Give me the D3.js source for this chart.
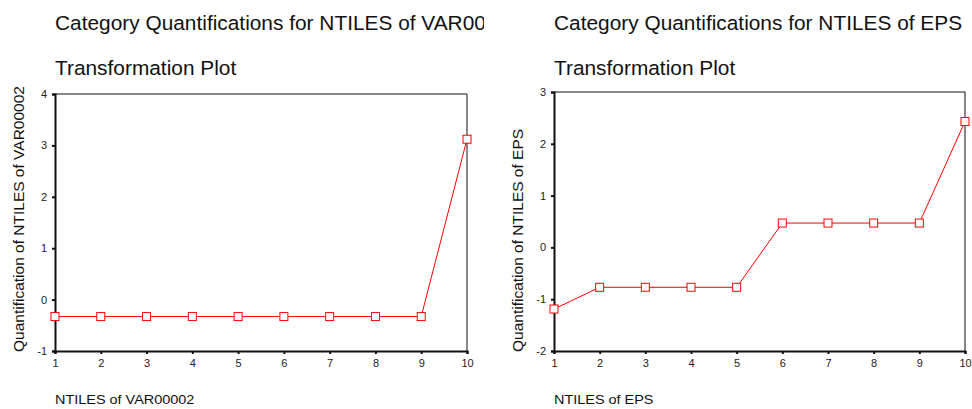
<!DOCTYPE html>
<html lang="en">
<head>
  <meta charset="UTF-8" />
  <title>Transformation Plots</title>
  <script src="https://d3js.org/d3.v7.min.js"></script>
  <style>
    body { margin: 0; background: #fff; font-family: Arial, 'Liberation Sans', sans-serif; }
    svg { display: block; }
    .tick text { font-size: 11px; fill: #222; }
  </style>
</head>
<body>
  <svg id="chart" width="972" height="409"></svg>
  <script>
    // data
    const categories = [1, 2, 3, 4, 5, 6, 7, 8, 9, 10];
    const var00002Values = [-0.33, -0.33, -0.33, -0.33, -0.33, -0.33, -0.33, -0.33, -0.33, 3.12];
    const epsValues = [-1.19, -0.77, -0.77, -0.77, -0.77, 0.47, 0.47, 0.47, 0.47, 2.43];
    const var00002Ticks = [-1, 0, 1, 2, 3, 4];
    const epsTicks = [-2, -1, 0, 1, 2, 3];

    const svg = d3.select("#chart");
    const stretch = 1.07; // the original text is set a little wide

    function wideText(parent, x, y, size, str, rotate) {
      return parent.append("text")
        .attr("transform", `translate(${x},${y})${rotate ? " rotate(-90)" : ""} scale(${stretch},1)`)
        .style("font-size", size + "px").attr("fill", "#111").text(str);
    }

    function drawPanel(opts) {
      const g = svg.append("g");
      const x = d3.scaleLinear().domain([1, 10]).range([opts.left, opts.right]);
      const y = d3.scaleLinear().domain(d3.extent(opts.ticks)).range([opts.bottom, opts.top]);

      // clip for titles that run past the panel
      const clipId = "clip-" + opts.id;
      svg.append("clipPath").attr("id", clipId)
        .append("rect").attr("x", opts.left - 5).attr("y", 0)
        .attr("width", opts.clipRight - opts.left + 5).attr("height", 409);

      const titles = g.append("g").attr("clip-path", `url(#${clipId})`);
      wideText(titles, opts.left, 30, 19.5, opts.title);
      wideText(titles, opts.left, 75, 19.5, "Transformation Plot");

      // frame top and right
      g.append("path")
        .attr("d", `M${opts.left},${opts.top}H${opts.right}V${opts.bottom}`)
        .attr("fill", "none").attr("stroke", "#111").attr("stroke-width", 1);

      const fmt = d => String(d);
      const yAxis = g.append("g").attr("transform", `translate(${opts.left},0)`)
        .call(d3.axisLeft(y).tickValues(opts.ticks).tickSize(3).tickPadding(5).tickFormat(fmt));
      const xAxis = g.append("g").attr("transform", `translate(0,${opts.bottom})`)
        .call(d3.axisBottom(x).tickValues(categories).tickSize(3).tickPadding(5).tickFormat(fmt));
      [yAxis, xAxis].forEach(a => {
        a.select(".domain").attr("stroke", "#111").attr("stroke-width", 2);
        a.selectAll(".tick line").attr("stroke", "#111").attr("stroke-width", 2);
      });

      // axis titles
      wideText(g, opts.left - 31, opts.bottom + 1, 14.5, opts.yLabel, true);
      wideText(g, opts.left, 404, 13.5, opts.xLabel);

      const pts = categories.map((c, i) => [c, opts.values[i]]);
      g.append("path").datum(pts)
        .attr("d", d3.line().x(d => x(d[0])).y(d => y(d[1])))
        .attr("fill", "none").attr("stroke", "#ff0000").attr("stroke-width", 1);
      g.selectAll("rect.mark").data(pts).enter().append("rect")
        .attr("class", "mark")
        .attr("x", d => x(d[0]) - 4).attr("y", d => y(d[1]) - 4)
        .attr("width", 8).attr("height", 8)
        .attr("fill", "#fff").attr("stroke", "#ff0000").attr("stroke-width", 1);
    }

    drawPanel({
      id: "a", left: 55, right: 467, top: 94, bottom: 351, clipRight: 484,
      ticks: var00002Ticks, values: var00002Values,
      title: "Category Quantifications for NTILES of VAR00002",
      yLabel: "Quantification of NTILES of VAR00002", xLabel: "NTILES of VAR00002"
    });
    drawPanel({
      id: "b", left: 554, right: 965, top: 92, bottom: 351, clipRight: 972,
      ticks: epsTicks, values: epsValues,
      title: "Category Quantifications for NTILES of EPS",
      yLabel: "Quantification of NTILES of EPS", xLabel: "NTILES of EPS"
    });
  </script>
</body>
</html>
